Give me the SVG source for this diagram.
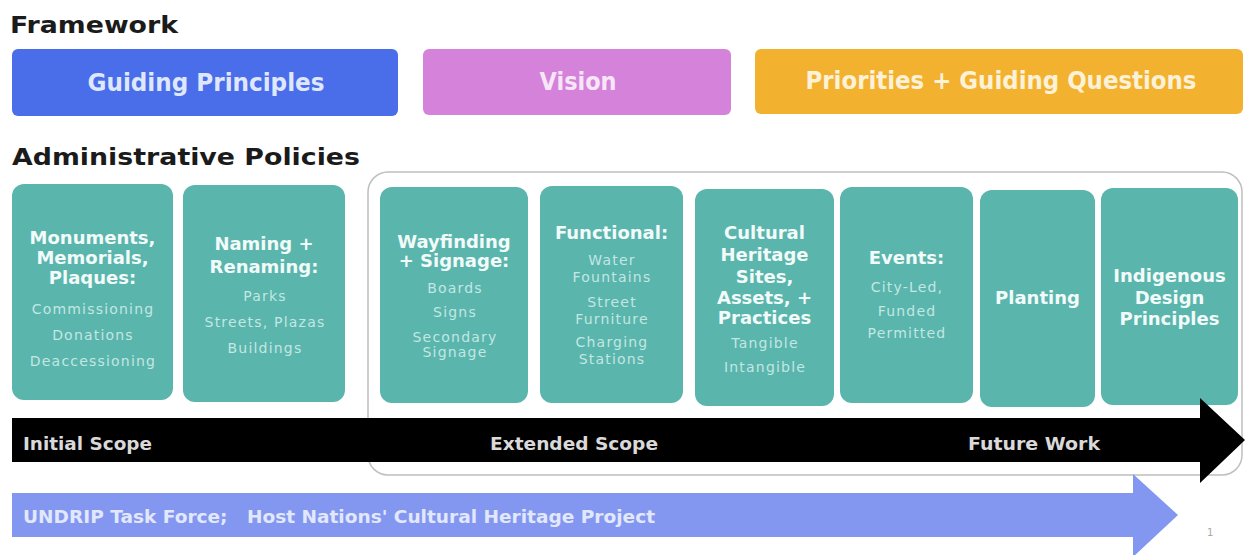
<svg xmlns="http://www.w3.org/2000/svg" width="1245" height="555" viewBox="0 0 1245 555">
  <style>
    .hdr { font-family: "DejaVu Sans", "Liberation Sans", sans-serif; font-weight: bold; font-size: 23px; fill: #1b1b1b; }
    .fw { font-family: "DejaVu Sans", "Liberation Sans", sans-serif; font-weight: bold; font-size: 24px; text-anchor: middle; }
    .card { fill: #5ab5ad; }
    .ttl { font-family: "DejaVu Sans", "Liberation Sans", sans-serif; font-weight: bold; font-size: 18px; fill: #f2fbf9; text-anchor: middle; }
    .sub { font-family: "DejaVu Sans", "Liberation Sans", sans-serif; font-size: 14px; letter-spacing: 1.2px; fill: #c3e7e2; text-anchor: middle; }
    .band { font-family: "DejaVu Sans", "Liberation Sans", sans-serif; font-weight: bold; font-size: 18px; }
  </style>

  <rect width="1245" height="555" fill="#ffffff"/>

  <!-- section headings -->
  <text class="hdr" x="10" y="33" textLength="168" lengthAdjust="spacingAndGlyphs">Framework</text>
  <text class="hdr" x="12" y="165" font-size="24" textLength="348" lengthAdjust="spacingAndGlyphs">Administrative Policies</text>

  <!-- framework bar -->
  <g id="guiding-principles">
    <rect x="12" y="49" width="386" height="67" rx="6" fill="#4a6de9"/>
    <text class="fw" x="206" y="91" fill="#dfe7fc" textLength="237" lengthAdjust="spacingAndGlyphs">Guiding Principles</text>
  </g>
  <g id="vision">
    <rect x="423" y="49" width="308" height="66" rx="6" fill="#d582db"/>
    <text class="fw" x="578" y="90" fill="#f7e6f7" textLength="77" lengthAdjust="spacingAndGlyphs">Vision</text>
  </g>
  <g id="priorities">
    <rect x="755" y="49" width="488" height="65" rx="6" fill="#f3b130"/>
    <text class="fw" x="1001" y="89" fill="#fdf2d8" textLength="391" lengthAdjust="spacingAndGlyphs">Priorities + Guiding Questions</text>
  </g>

  <!-- frame around the extended / future policies -->
  <rect id="extended-frame" x="368" y="172" width="874" height="303" rx="20" fill="none" stroke="#bfbfbf" stroke-width="1.5"/>

  <!-- policy cards -->
  <g id="monuments">
    <rect class="card" x="12" y="184" width="161" height="216" rx="12"/>
    <text class="ttl" x="92.5" y="244">Monuments,</text>
    <text class="ttl" x="92.5" y="264">Memorials,</text>
    <text class="ttl" x="92.5" y="284">Plaques:</text>
    <text class="sub" x="93" y="314">Commissioning</text>
    <text class="sub" x="93" y="340">Donations</text>
    <text class="sub" x="93" y="366">Deaccessioning</text>
  </g>
  <g id="naming">
    <rect class="card" x="183" y="185" width="162" height="217" rx="12"/>
    <text class="ttl" x="264" y="250">Naming +</text>
    <text class="ttl" x="264" y="273">Renaming:</text>
    <text class="sub" x="265" y="301">Parks</text>
    <text class="sub" x="265" y="327">Streets, Plazas</text>
    <text class="sub" x="265" y="353">Buildings</text>
  </g>
  <g id="wayfinding">
    <rect class="card" x="380" y="187" width="148" height="216" rx="12"/>
    <text class="ttl" x="454" y="248">Wayfinding</text>
    <text class="ttl" x="454" y="267">+ Signage:</text>
    <text class="sub" x="455" y="293">Boards</text>
    <text class="sub" x="455" y="317">Signs</text>
    <text class="sub" x="455" y="342">Secondary</text>
    <text class="sub" x="455" y="357">Signage</text>
  </g>
  <g id="functional">
    <rect class="card" x="540" y="186" width="143" height="217" rx="12"/>
    <text class="ttl" x="611.5" y="239">Functional:</text>
    <text class="sub" x="612" y="265">Water</text>
    <text class="sub" x="612" y="282">Fountains</text>
    <text class="sub" x="612" y="307">Street</text>
    <text class="sub" x="612" y="324">Furniture</text>
    <text class="sub" x="612" y="347">Charging</text>
    <text class="sub" x="612" y="364">Stations</text>
  </g>
  <g id="cultural-heritage">
    <rect class="card" x="695" y="189" width="139" height="217" rx="12"/>
    <text class="ttl" x="764.5" y="239">Cultural</text>
    <text class="ttl" x="764.5" y="261">Heritage</text>
    <text class="ttl" x="764.5" y="283">Sites,</text>
    <text class="ttl" x="764.5" y="304">Assets, +</text>
    <text class="ttl" x="764.5" y="324">Practices</text>
    <text class="sub" x="765" y="348">Tangible</text>
    <text class="sub" x="765" y="372">Intangible</text>
  </g>
  <g id="events">
    <rect class="card" x="840" y="187" width="133" height="216" rx="12"/>
    <text class="ttl" x="906.5" y="264">Events:</text>
    <text class="sub" x="907" y="292">City-Led,</text>
    <text class="sub" x="907" y="316">Funded</text>
    <text class="sub" x="907" y="338">Permitted</text>
  </g>
  <g id="planting">
    <rect class="card" x="980" y="190" width="115" height="217" rx="12"/>
    <text class="ttl" x="1037.5" y="304">Planting</text>
  </g>
  <g id="indigenous-design">
    <rect class="card" x="1101" y="188" width="137" height="217" rx="12"/>
    <text class="ttl" x="1169.5" y="282">Indigenous</text>
    <text class="ttl" x="1169.5" y="304">Design</text>
    <text class="ttl" x="1169.5" y="325">Principles</text>
  </g>

  <!-- scope arrows -->
  <g id="scope-arrows">
    <g id="scope-timeline">
      <polygon points="12,418 1200,418 1200,398 1245,440 1200,483 1200,462 12,462" fill="#000000"/>
      <text class="band" x="23" y="450" fill="#d9d9d9" textLength="129" lengthAdjust="spacingAndGlyphs">Initial Scope</text>
      <text class="band" x="490" y="450" fill="#d9d9d9" textLength="168" lengthAdjust="spacingAndGlyphs">Extended Scope</text>
      <text class="band" x="968" y="450" fill="#d9d9d9" textLength="132" lengthAdjust="spacingAndGlyphs">Future Work</text>
    </g>
    <g id="undrip">
      <polygon points="12,493 1133,493 1133,474 1178,515 1133,557 1133,537 12,537" fill="#8497f0"/>
      <text class="band" x="23" y="523" fill="#e2e8fc" textLength="632" lengthAdjust="spacingAndGlyphs">UNDRIP Task Force;&#160;&#160; Host Nations' Cultural Heritage Project</text>
    </g>
  </g>

  <text x="1207" y="536" font-family="DejaVu Sans, sans-serif" font-size="10" fill="#a8a8a8">1</text>
</svg>
